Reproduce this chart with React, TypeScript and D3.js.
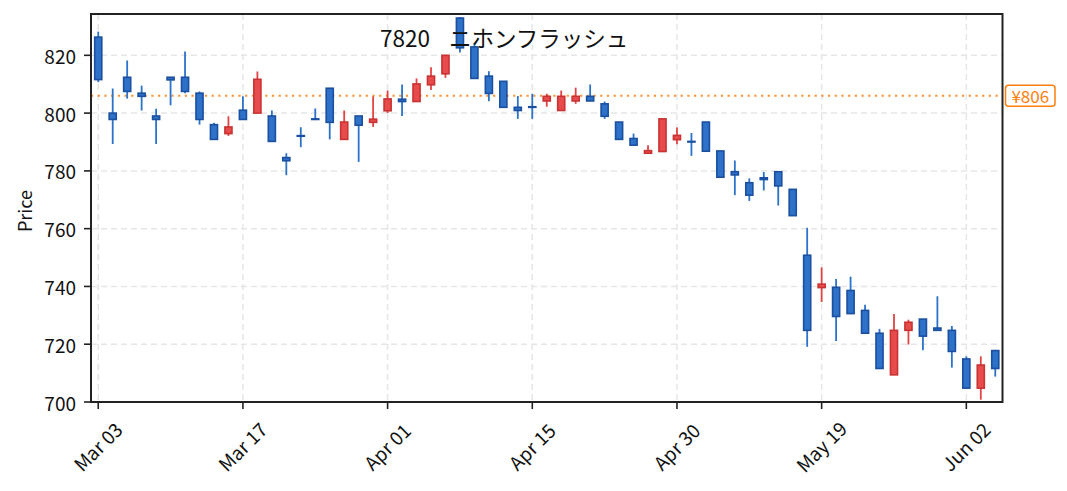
import React from "react";
import * as d3 from "d3";

const dates = [
  "Mar 03","Mar 04","Mar 05","Mar 06","Mar 07","Mar 10","Mar 11","Mar 12","Mar 13","Mar 14",
  "Mar 17","Mar 18","Mar 19","Mar 21","Mar 24","Mar 25","Mar 26","Mar 27","Mar 28","Mar 31",
  "Apr 01","Apr 02","Apr 03","Apr 04","Apr 07","Apr 08","Apr 09","Apr 10","Apr 11","Apr 14",
  "Apr 15","Apr 16","Apr 17","Apr 18","Apr 21","Apr 22","Apr 23","Apr 24","Apr 25","Apr 28",
  "Apr 30","May 01","May 07","May 08","May 09","May 12","May 13","May 14","May 15","May 16",
  "May 19","May 20","May 21","May 22","May 23","May 26","May 27","May 28","May 29","May 30",
  "Jun 02","Jun 03","Jun 04",
];

const openP = [
  826.3, 800, 812.4, 806.9, 799, 812.4, 812.4, 806.9, 796, 792.9,
  801, 800, 799, 784.6, 792.2, 798, 808.6, 790.9, 799, 796.8,
  800.8, 804.8, 804, 809.8, 813.6, 832.9, 822.9, 812.8, 811, 802,
  802.2, 804.2, 800.9, 804.2, 805.8, 803.2, 796.9, 791.2, 786.1, 786.7,
  790.8, 790.2, 796.9, 786.9, 779.7, 775.9, 777.6, 779.7, 773.6, 750.8,
  739.6, 739.7, 738.6, 731.7, 723.8, 709.4, 724.8, 728.7, 725.6, 724.8,
  714.9, 704.8, 717.8,
];
const highP = [
  828.2, 808.5, 818.2, 809.5, 801.5, 812.4, 821.3, 807.5, 796.7, 798.9,
  805.8, 814.4, 800.9, 786.1, 795.1, 801.6, 808.6, 800.9, 799, 805.8,
  807.8, 809.9, 812, 815.9, 820, 833.3, 824, 814.5, 811, 805.9,
  806.7, 806.7, 807.8, 808.8, 809.9, 804, 796.9, 792.9, 788.9, 798,
  795, 793.1, 796.9, 786.9, 783.6, 777.4, 779.6, 779.7, 773.6, 760.3,
  746.6, 742.6, 743.4, 733.7, 725.3, 730.5, 728.5, 728.7, 736.6, 726.3,
  715.8, 715.8, 717.8,
];
const lowP = [
  810.7, 789.3, 805, 800.9, 789.3, 802.7, 806.9, 796, 790.9, 792.1,
  797.8, 800, 790.2, 778.5, 788.2, 797.8, 790.9, 790.9, 783.1, 795.2,
  800, 799, 804, 808, 812.2, 821, 812, 804.1, 802, 798,
  798, 802.2, 800.9, 803.2, 804.2, 798, 790.9, 788.9, 786.1, 786.7,
  789.2, 785.2, 786.8, 777.8, 771.6, 769.6, 773.2, 768, 764.5, 719.1,
  734.6, 721.1, 730.6, 723.8, 711.6, 709.4, 719.9, 717.9, 724.8, 711.9,
  704.8, 700.8, 708.8,
];
const closeP = [
  811.6, 797.8, 807.5, 805.8, 797.8, 811.5, 807.5, 797.8, 790.9, 795.2,
  797.8, 811.7, 790.2, 783.5, 792.0, 797.8, 796.8, 796.9, 795.8, 797.9,
  804.9, 804.0, 810.1, 812.8, 820, 822.6, 812, 806.8, 802, 800.9,
  802, 805.8, 805.8, 805.8, 804.2, 798.9, 790.9, 788.9, 787, 798,
  792.3, 790, 786.8, 777.8, 778.6, 771.6, 777.0, 774.8, 764.5, 724.8,
  740.8, 729.6, 730.6, 723.8, 711.6, 724.8, 727.6, 722.8, 724.8, 717.5,
  704.8, 712.8, 711.6,
];

const yTicks = [700, 720, 740, 760, 780, 800, 820];
const tickEvery = 10;
const refPrice = 806;
const titleCode = "7820";
const titleName = "ニホンフラッシュ";
const yLabel = "Price";

const W = 1067;
const H = 491;
const L = 91, R = 1002.5, T = 14, B = 402;
const FONT = "'Noto Sans CJK JP', 'Noto Sans', sans-serif";

const UP_FILL = "#e84b4b", UP_EDGE = "#c93333";
const DN_FILL = "#2e71c8", DN_EDGE = "#1b4f9f";

export default function App() {
  const n = dates.length;
  const x = d3.scaleLinear().domain([-0.5, n - 0.5]).range([L, R]);
  const y = d3.scaleLinear().domain([700, 834.3]).range([B, T]);
  const step = x(1) - x(0);
  const bw = step * 0.6;
  const xTickIdx = d3.range(0, n, tickEvery);
  const refY = y(refPrice);

  return (
    <svg width={W} height={H} style={{ position: "absolute", left: 0, top: 0, background: "#fff" }}>
      <rect x={0} y={0} width={W} height={H} fill="#fff" />
      {/* grid */}
      <g stroke="#e6e6e6" strokeWidth={1.5} strokeDasharray="6,4">
        {yTicks.map((t) => (
          <line key={"gy" + t} x1={L} x2={R} y1={y(t)} y2={y(t)} />
        ))}
        {xTickIdx.map((i) => (
          <line key={"gx" + i} x1={x(i)} x2={x(i)} y1={T} y2={B} />
        ))}
      </g>
      {/* reference line */}
      <line x1={L} x2={R} y1={refY} y2={refY} stroke="#ff7f0e" strokeOpacity={0.85} strokeWidth={2} strokeDasharray="2.2,4.5" />
      {/* wicks */}
      <g>
        {dates.map((d, i) => {
          const up = closeP[i] >= openP[i];
          return (
            <line key={"w" + i} x1={x(i)} x2={x(i)} y1={y(highP[i])} y2={y(lowP[i])}
              stroke={up ? "#e24343" : "#2b72ca"} strokeWidth={1.8} />
          );
        })}
      </g>
      {/* bodies */}
      <g>
        {dates.map((d, i) => {
          const up = closeP[i] >= openP[i];
          const top = y(Math.max(openP[i], closeP[i]));
          const bot = y(Math.min(openP[i], closeP[i]));
          return (
            <rect key={"b" + i} x={x(i) - bw / 2 + 0.8} y={top} width={bw - 1.6} height={Math.max(bot - top, 0.6)}
              fill={up ? UP_FILL : DN_FILL} stroke={up ? UP_EDGE : DN_EDGE} strokeWidth={1.6} />
          );
        })}
      </g>
      {/* title */}
      <text y={46.5} fontFamily={FONT} fontSize={22.5} fill="#111">
        <tspan x={380}>{titleCode}</tspan>
        <tspan x={449}>{titleName}</tspan>
      </text>
      {/* spines */}
      <rect x={L} y={T} width={R - L} height={B - T} fill="none" stroke="#222" strokeWidth={2} />
      {/* y ticks */}
      <g fontFamily={FONT} fontSize={19} fill="#111">
        {yTicks.map((t) => (
          <g key={"yt" + t}>
            <line x1={L - 7} x2={L} y1={y(t)} y2={y(t)} stroke="#222" strokeWidth={1.6} />
            <text x={76} y={y(t)} textAnchor="end" dominantBaseline="central">{t}</text>
          </g>
        ))}
      </g>
      {/* x ticks */}
      <g fontFamily={FONT} fontSize={19} fill="#111">
        {xTickIdx.map((i) => (
          <g key={"xt" + i}>
            <line x1={x(i)} x2={x(i)} y1={B} y2={B + 7} stroke="#222" strokeWidth={1.6} />
            <text x={0} y={0} textAnchor="middle" dominantBaseline="central"
              transform={`translate(${x(i) - 1},446) rotate(-45)`}>{dates[i]}</text>
          </g>
        ))}
      </g>
      {/* y label */}
      <text fontFamily={FONT} fontSize={18} fill="#111" textAnchor="middle" dominantBaseline="central"
        transform="translate(24,211) rotate(-90)">{yLabel}</text>
      {/* price tag */}
      <rect x={1005.5} y={refY - 10.5} width={49.5} height={21} rx={3} fill="#fff" stroke="#ff7f0e" strokeWidth={1.5} />
      <text x={1030.3} y={refY} textAnchor="middle" dominantBaseline="central" fontFamily={FONT} fontSize={17} fill="#ff7f0e">
        {"¥" + refPrice}
      </text>
    </svg>
  );
}
